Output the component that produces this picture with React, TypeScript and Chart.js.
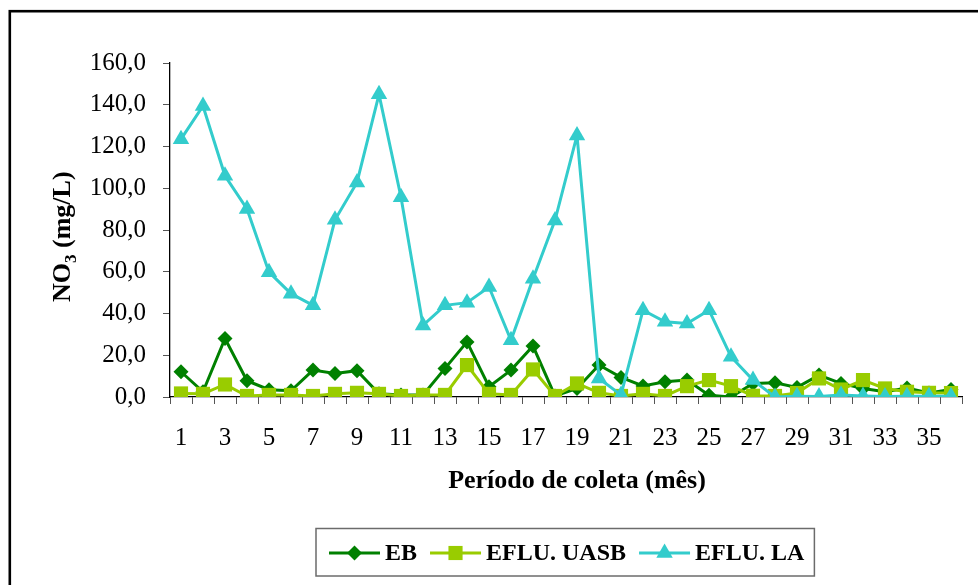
import React, { useEffect, useRef } from 'react';
import { Chart, registerables } from 'chart.js';

Chart.register(...registerables);

const categories = ['1','2','3','4','5','6','7','8','9','10','11','12','13','14','15','16','17','18','19','20','21','22','23','24','25','26','27','28','29','30','31','32','33','34','35','36'];

const ebValues = [12.1, 2.5, 28, 7.8, 3.5, 3, 12.9, 11.3, 12.6, 1.5, 1, 1, 13.7, 26.4, 4.9, 12.9, 24.4, 0.5, 4.1, 15.3, 9.4, 5.3, 7.3, 8.1, 0.8, 0, 6.5, 6.8, 4.6, 10.5, 6.5, 4.1, 2.5, 4.3, 1.9, 3.6];
const uasbValues = [1.7, 1.5, 6, 0.5, 1, 1, 0.5, 1.5, 2, 1.5, 0.5, 1, 1, 15.3, 1.5, 1, 13.2, 0.5, 6.5, 2, 0.5, 1.5, 0.5, 5.2, 8.1, 5.2, 0.6, 0.5, 1.9, 8.9, 3.6, 8.1, 4.1, 2.5, 2, 1.9];
const laValues = [123.5, 139.4, 106, 90.1, 59.8, 49.5, 43.9, 84.9, 102.8, 145, 95.7, 34.3, 43.9, 45.2, 52.7, 27.2, 56.7, 84.6, 125.3, 8.9, 1, 41.6, 36, 35.2, 41.6, 19.3, 8.1, 0, 0.3, 0.2, 1, 0.5, 0.2, 0.3, 0.3, 0.3];

const seriesLabels = ['EB', 'EFLU. UASB', 'EFLU. LA'];
const xTitle = 'Período de coleta (mês)';
const yTitleMain = 'NO';
const yTitleSub = '3';
const yTitleRest = ' (mg/L)';

const SERIF = '"Liberation Serif", "Times New Roman", serif';
const COLORS = ['#008000', '#99CC00', '#33CCCC'];
const STYLES: any[] = ['rectRot', 'rect', 'triangle'];
const RADII = [7.5, 10, 9.5];

function drawMarker(ctx: CanvasRenderingContext2D, style: string, x: number, y: number, r: number, color: string) {
  ctx.save();
  ctx.fillStyle = color;
  ctx.beginPath();
  if (style === 'rectRot') {
    ctx.moveTo(x, y - r); ctx.lineTo(x + r, y); ctx.lineTo(x, y + r); ctx.lineTo(x - r, y);
  } else if (style === 'rect') {
    const s = r * Math.SQRT1_2;
    ctx.rect(x - s, y - s, 2 * s, 2 * s);
  } else {
    const w = r * Math.sin(Math.PI * 2 / 3);
    ctx.moveTo(x, y - r); ctx.lineTo(x + w, y + r / 2); ctx.lineTo(x - w, y + r / 2);
  }
  ctx.closePath();
  ctx.fill();
  ctx.restore();
}

const decor = {
  id: 'decor',
  beforeDraw(chart: any) {
    const ctx = chart.ctx as CanvasRenderingContext2D;
    ctx.save();
    ctx.fillStyle = '#fff';
    ctx.fillRect(0, 0, chart.width, chart.height);
    ctx.strokeStyle = '#000';
    ctx.lineWidth = 2.6;
    ctx.strokeRect(9.8, 11.2, 2000, 2000);
    ctx.restore();
  },
  afterDraw(chart: any) {
    const ctx = chart.ctx as CanvasRenderingContext2D;
    ctx.save();
    ctx.fillStyle = '#000';
    // x title
    ctx.font = `bold 26px ${SERIF}`;
    ctx.textAlign = 'center';
    ctx.textBaseline = 'alphabetic';
    ctx.fillText(xTitle, 577, 488);
    // y title
    ctx.save();
    ctx.translate(70, 302);
    ctx.rotate(-Math.PI / 2);
    ctx.textAlign = 'left';
    ctx.font = `bold 26px ${SERIF}`;
    ctx.fillText(yTitleMain, 0, 0);
    let w = ctx.measureText(yTitleMain).width;
    ctx.font = `bold 17px ${SERIF}`;
    ctx.fillText(yTitleSub, w, 6);
    w += ctx.measureText(yTitleSub).width;
    ctx.font = `bold 26px ${SERIF}`;
    ctx.fillText(yTitleRest, w, 0);
    ctx.restore();
    // legend
    const top = 528.5, h = 47.5, cy = 553;
    let x = 329;
    ctx.font = `bold 24px ${SERIF}`;
    ctx.textAlign = 'left';
    ctx.textBaseline = 'middle';
    const items: { lx: number; tx: number }[] = [];
    for (let i = 0; i < seriesLabels.length; i++) {
      const lx = x;
      const tx = lx + 56;
      items.push({ lx, tx });
      x = tx + ctx.measureText(seriesLabels[i]).width + 13;
    }
    const right = x - 13 + 10;
    ctx.strokeStyle = '#6b6b6b';
    ctx.lineWidth = 1.5;
    ctx.strokeRect(316, top, right - 316, h);
    for (let i = 0; i < seriesLabels.length; i++) {
      const { lx, tx } = items[i];
      ctx.strokeStyle = COLORS[i];
      ctx.lineWidth = 3;
      ctx.beginPath();
      ctx.moveTo(lx, cy);
      ctx.lineTo(lx + 51, cy);
      ctx.stroke();
      drawMarker(ctx, STYLES[i], lx + 25.5, cy, RADII[i], COLORS[i]);
      ctx.fillStyle = '#000';
      ctx.fillText(seriesLabels[i], tx, cy + 1);
    }
    ctx.restore();
  },
};

export default function App() {
  const ref = useRef<HTMLCanvasElement | null>(null);
  useEffect(() => {
    document.body.style.margin = '0';
    const canvas = ref.current!;
    const values = [ebValues, uasbValues, laValues];
    const chart = new Chart(canvas, {
      type: 'line',
      data: {
        labels: categories,
        datasets: values.map((d, i) => ({
          label: seriesLabels[i],
          data: d,
          borderColor: COLORS[i],
          backgroundColor: COLORS[i],
          pointBackgroundColor: COLORS[i],
          pointBorderColor: COLORS[i],
          pointBorderWidth: 0,
          borderWidth: 3,
          pointStyle: STYLES[i],
          pointRadius: RADII[i],
          tension: 0,
          fill: false,
          order: 3 - i,
        })),
      },
      options: {
        animation: false,
        responsive: false,
        devicePixelRatio: 1,
        layout: { padding: { left: 0, top: 63, right: 16, bottom: 0 } },
        plugins: { legend: { display: false }, tooltip: { enabled: false } },
        scales: {
          x: {
            type: 'category',
            offset: true,
            afterFit: (s: any) => { s.height = 585 - 397; },
            grid: { offset: true, drawOnChartArea: false, drawTicks: true, tickLength: 7, color: '#555', lineWidth: 1 },
            border: { display: true, color: '#000', width: 1.3 },
            ticks: {
              autoSkip: false,
              maxRotation: 0,
              padding: 19,
              color: '#000',
              font: { family: SERIF, size: 25 },
              callback: function (this: any, val: any, idx: number) {
                return idx % 2 === 0 ? categories[idx] : '';
              },
            },
          },
          y: {
            min: 0,
            max: 160,
            afterFit: (s: any) => { s.width = 170; },
            grid: { drawOnChartArea: false, drawTicks: true, tickLength: 7, color: '#555', lineWidth: 1 },
            border: { display: true, color: '#000', width: 1.3 },
            ticks: {
              stepSize: 20,
              padding: 17,
              color: '#000',
              font: { family: SERIF, size: 25 },
              callback: (v: any) => Number(v).toFixed(1).replace('.', ','),
            },
          },
        },
      } as any,
      plugins: [decor],
    });
    return () => chart.destroy();
  }, []);
  return (
    <div style={{ position: 'absolute', left: 0, top: 0, width: 978, height: 585 }}>
      <canvas ref={ref} width={978} height={585} style={{ display: 'block', width: 978, height: 585 }} />
    </div>
  );
}
